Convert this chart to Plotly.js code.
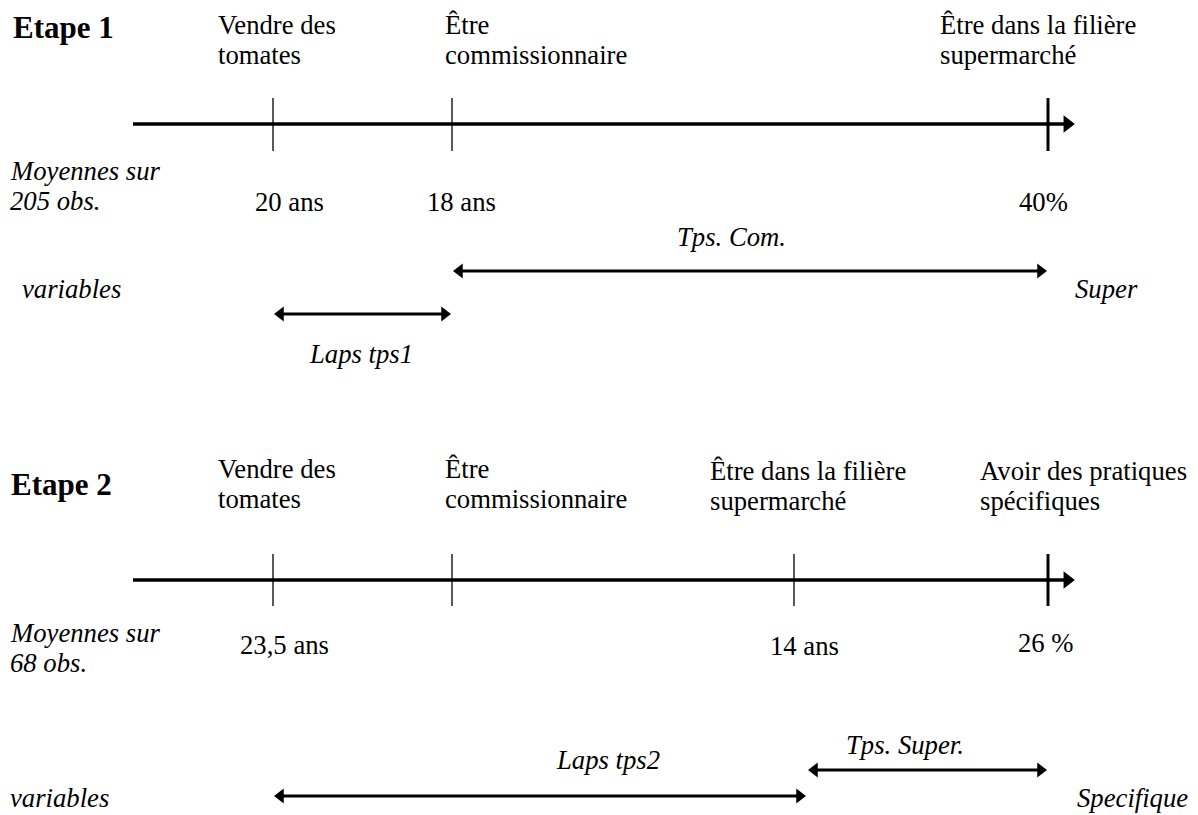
<!DOCTYPE html>
<html><head><meta charset="utf-8">
<script src="https://cdn.plot.ly/plotly-3.0.1.min.js"></script>
<style>html,body{margin:0;padding:0;background:#fff}</style>
</head><body>
<div id="chart" style="width:1198px;height:815px"></div>
<script>
// ---------- content (text / values) ----------
const stageTitles = ["Etape 1", "Etape 2"];
const obsLabels = ["Moyennes sur\n205 obs.", "Moyennes sur\n68 obs."];
const varLabel = "variables";

const stage1Milestones = ["Vendre des\ntomates", "Être\ncommissionnaire", "Être dans la filière\nsupermarché"];
const stage1Values = ["20 ans", "18 ans", "40%"];
const stage1Spans = ["Laps tps1", "Tps. Com."];
const stage1Outcome = "Super";

const stage2Milestones = ["Vendre des\ntomates", "Être\ncommissionnaire", "Être dans la filière\nsupermarché", "Avoir des pratiques\nspécifiques"];
const stage2Values = ["23,5 ans", "", "14 ans", "26 %"];
const stage2Spans = ["Laps tps2", "Tps. Super."];
const stage2Outcome = "Specifique";

// ---------- geometry (pixel frame) ----------
const G = {
  axisStart: 133, axisTip: 1076,
  s1: {
    axisY: 124, tickTop: 98, tickBot: 151,
    ticks: [273, 452, 1048], thick: [false, false, true],
    titleX: 11, titleY: 27,
    labelX: [216, 443, 938], labelY: [[25, 55], [25, 55], [25, 55]],
    obsY: [171, 201],
    valueX: [289, 461, 1043], valueY: [202, 202, 202],
    spans: [{x0: 273, x1: 452, y: 314, lx: 361, ly: 354}, {x0: 452, x1: 1048, y: 271, lx: 731, ly: 237}],
    varX: 20, varY: 289, outX: 1140, outY: 289
  },
  s2: {
    axisY: 580, tickTop: 554, tickBot: 606,
    ticks: [273, 452, 794, 1048], thick: [false, false, false, true],
    titleX: 9, titleY: 484,
    labelX: [216, 443, 708, 978], labelY: [[469, 499], [469, 499], [471, 501], [471, 501]],
    obsY: [633, 663],
    valueX: [284, 0, 804, 1046], valueY: [645, 0, 646, 643],
    spans: [{x0: 273, x1: 807, y: 796, lx: 608, ly: 760}, {x0: 807, x1: 1048, y: 770, lx: 905, ly: 745}],
    varX: 8, varY: 798, outX: 1190, outY: 798
  }
};

const FONT = "Liberation Serif, Times New Roman, serif";
const FS = 26.7;
const traces = [];
const annotations = [];

function text(x, y, t, opts) {
  opts = opts || {};
  annotations.push({
    x: x, y: y, xref: 'x', yref: 'y', text: t, showarrow: false,
    xanchor: opts.anchor || 'left', yanchor: 'middle',
    font: {family: FONT, size: opts.size || FS, color: '#000', weight: opts.bold ? 'bold' : 'normal', style: opts.italic ? 'italic' : 'normal'}
  });
}
function esc(s) { return s.replace(/&/g, '&amp;').replace(/</g, '&lt;'); }
function lines(x, ys, s, opts) {
  s.split('\n').forEach((ln, i) => text(x, ys[i], esc(ln), opts));
}
function seg(x0, y0, x1, y1, w) {
  traces.push({x: [x0, x1], y: [y0, y1], mode: 'lines', line: {color: '#000', width: w}, hoverinfo: 'skip', showlegend: false});
}
function head(x, y, dir, size) {
  const r = size / 2, rt = r * 2 / Math.sqrt(3);
  traces.push({x: [dir === 'right' ? x - rt : x + rt], y: [y], mode: 'markers',
    marker: {symbol: 'triangle-' + dir, size: size, color: '#000', line: {width: 0}},
    hoverinfo: 'skip', showlegend: false});
}
function dbl(x0, x1, y) {
  seg(x0 + 6, y, x1 - 6, y, 3);
  head(x0, y, 'left', 13);
  head(x1, y, 'right', 13);
}

function stage(idx, g, milestones, values, spans, outcome) {
  text(g.titleX, g.titleY, stageTitles[idx], {bold: true, size: 31});
  seg(G.axisStart, g.axisY, G.axisTip - 8, g.axisY, 3.5);
  head(G.axisTip, g.axisY, 'right', 15);
  g.ticks.forEach((tx, i) => seg(tx, g.tickTop, tx, g.tickBot, g.thick[i] ? 3 : 1.3));
  milestones.forEach((m, i) => lines(g.labelX[i], g.labelY[i], m));
  lines(8, g.obsY, obsLabels[idx], {italic: true});
  values.forEach((v, i) => { if (v) text(g.valueX[i], g.valueY[i], esc(v), {anchor: 'center'}); });
  spans.forEach((s, i) => {
    const sp = g.spans[i];
    dbl(sp.x0, sp.x1, sp.y);
    text(sp.lx, sp.ly, esc(s), {anchor: 'center', italic: true});
  });
  text(g.varX, g.varY, varLabel, {italic: true});
  text(g.outX, g.outY, outcome, {italic: true, anchor: 'right'});
}

stage(0, G.s1, stage1Milestones, stage1Values, stage1Spans, stage1Outcome);
stage(1, G.s2, stage2Milestones, stage2Values, stage2Spans, stage2Outcome);

const layout = {
  width: 1198, height: 815,
  margin: {l: 0, r: 0, t: 0, b: 0, pad: 0},
  paper_bgcolor: '#fff', plot_bgcolor: '#fff',
  xaxis: {range: [0, 1198], visible: false, fixedrange: true},
  yaxis: {range: [815, 0], visible: false, fixedrange: true},
  showlegend: false,
  annotations: annotations
};
Plotly.newPlot('chart', traces, layout, {displayModeBar: false, staticPlot: true});
</script>
</body></html>
